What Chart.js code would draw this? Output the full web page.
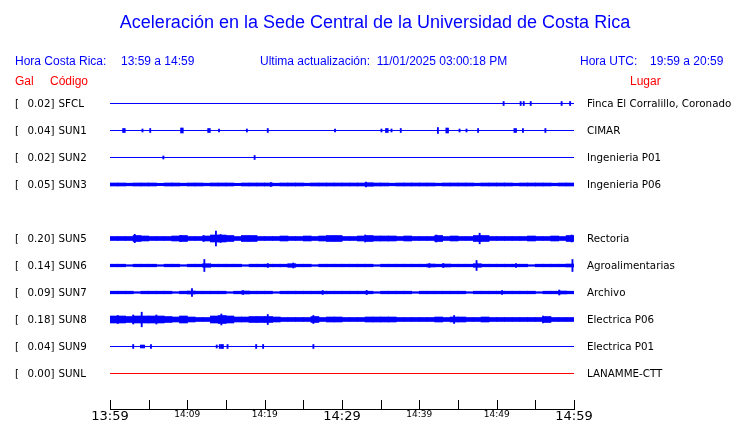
<!DOCTYPE html>
<html lang="es">
<head>
<meta charset="utf-8">
<title>Aceleración en la Sede Central de la Universidad de Costa Rica</title>
<script src="https://cdn.jsdelivr.net/npm/chart.js@4.4.1/dist/chart.umd.min.js"></script>
<style>
    html, body { margin: 0; padding: 0; background: #fff; }
    #wrap { position: relative; width: 740px; height: 423px; overflow: hidden; }
    #chart { position: absolute; left: 0; top: 0; }
    .txt { position: absolute; white-space: pre; line-height: 1; transform: translateY(-50%); }
    .title { font: 18px "Liberation Sans", Arial, sans-serif; color: #0000ff; left: 375px; top: 22px; transform: translate(-50%, -50%); }
    .hdr { font: 12px "Liberation Sans", Arial, sans-serif; color: #0000ff; top: 61px; }
    .red { font: 12px "Liberation Sans", Arial, sans-serif; color: #ff0000; top: 80.5px; }
    .row { font: 10.3px "DejaVu Sans", sans-serif; color: #000; }
</style>
</head>
<body>
<div id="wrap">
    <canvas id="chart" width="740" height="423"></canvas>
    <div class="txt title">Aceleración en la Sede Central de la Universidad de Costa Rica</div>
    <div class="txt hdr" style="left:15px">Hora Costa Rica:</div>
    <div class="txt hdr" style="left:121px">13:59 a 14:59</div>
    <div class="txt hdr" style="left:260px">Ultima actualización:  11/01/2025 03:00:18 PM</div>
    <div class="txt hdr" style="left:580px">Hora UTC:</div>
    <div class="txt hdr" style="left:650px">19:59 a 20:59</div>
    <div class="txt red" style="left:15px">Gal</div>
    <div class="txt red" style="left:50px">Código</div>
    <div class="txt red" style="left:630px">Lugar</div>
</div>
<script>
// Stations, top to bottom (row 4 is empty in the original: SUN4 has no trace)
const STATIONS = ['SFCL', 'SUN1', 'SUN2', 'SUN3', 'SUN5', 'SUN6', 'SUN7', 'SUN8', 'SUN9', 'SUNL'];
const ROWS = [0, 1, 2, 3, 5, 6, 7, 8, 9, 10];
const PEAK_GAL = ['0.02', '0.04', '0.02', '0.05', '0.20', '0.14', '0.09', '0.18', '0.04', '0.00'];
const PLACES = ['Finca El Corralillo, Coronado', 'CIMAR', 'Ingenieria P01', 'Ingenieria P06',
    'Rectoria', 'Agroalimentarias', 'Archivo', 'Electrica P06', 'Electrica P01', 'LANAMME-CTT'];
const OFFLINE = ['SUNL'];

// Time axis: minutes after 13:59
const TICK_LABELS = ['13:59', '14:09', '14:19', '14:29', '14:39', '14:49', '14:59'];

// Background noise envelope, half height per minute (trace units)
const NOISE_SUN3 = [1.5, 1.5, 1.3, 1.5, 1.5, 1.5, 1.2, 1.5, 1.5, 1.3, 1.5, 1.5, 1.3, 1.5, 1.5, 1.5, 1.2, 1.5, 1.5, 1.5,
    1.5, 1.3, 1.5, 1.5, 1.5, 1.3, 1.5, 1.5, 1.5, 1.5, 1.5, 1.5, 1.5, 1.8, 1.5, 1.5, 1.3, 1.5, 1.5, 1.5,
    1.5, 1.5, 1.3, 1.5, 1.5, 1.5, 1.5, 1.3, 1.5, 1.5, 1.5, 1.5, 1.3, 1.5, 1.5, 1.5, 1.5, 1.3, 1.5, 1.5];
const NOISE_SUN5 = [2, 2, 2, 3, 2.5, 2, 2, 2, 2.5, 3, 2, 2, 2.5, 3.5, 3.5, 3, 2, 3, 3, 2,
    2, 2, 2.5, 2, 2, 2.5, 2, 2.5, 3, 3, 2, 2, 2.5, 3, 2.5, 2.5, 2.5, 2, 2.5, 2,
    2, 2, 3, 2, 2.5, 2, 2, 3, 3, 2, 2, 2, 2, 2, 2.5, 2, 2, 2.5, 2, 3];
const NOISE_SUN6 = [1.3, 1.3, 0.8, 1.3, 1.3, 1.3, 0.8, 1.3, 1.3, 0.8, 1.3, 1.3, 1.8, 1.3, 1.3, 1.3, 1.3, 0.8, 1.3, 1.3,
    1.3, 1.3, 1.3, 1.8, 1.3, 1.3, 0.8, 1.3, 1.3, 1.3, 1.3, 1.3, 1.3, 1.3, 0.8, 1.3, 1.3, 1.3, 1.3, 1.3,
    1.3, 1.5, 1.3, 1.5, 1.3, 1.3, 1.3, 1.8, 1.3, 1.3, 1.3, 1.3, 1.3, 1.3, 0.8, 1.3, 1.3, 1.3, 1.3, 1.5];
const NOISE_SUN7 = [1.3, 1.3, 1.3, 0.8, 1.3, 1.3, 1.3, 1.3, 0.8, 1.3, 1.5, 1.3, 1.3, 1.3, 1.3, 0.8, 1.3, 1.5, 1.3, 1.3,
    1.3, 0.8, 1.3, 1.3, 1.3, 1.3, 1.3, 1.3, 1.3, 1.3, 1.3, 1.3, 1.3, 1.3, 0.8, 1.3, 1.3, 1.3, 1.3, 0.8,
    1.3, 1.3, 1.3, 1.3, 1.3, 1.3, 0.8, 1.3, 1.3, 1.3, 1.3, 1.3, 1.3, 1.3, 1.3, 0.8, 1.3, 1.3, 1.5, 1.3];
const NOISE_SUN8 = [3.5, 3.5, 3, 3.5, 3.5, 3.5, 3.5, 3, 2.5, 3.5, 2.5, 2, 2, 3.5, 4, 3.5, 2.5, 2.5, 3, 3,
    3, 2.5, 2, 2, 2, 2, 3, 2, 2.5, 2.5, 2, 2, 2, 2.5, 2.5, 2.5, 2.5, 2, 2, 2,
    2, 2, 2.5, 2, 2.5, 2.5, 2, 2, 2.5, 2, 2, 2, 2, 2, 2, 2, 3, 2, 2, 2];

// Isolated spikes: [minute, half height]
const SPIKES_SFCL = [[50.9, 2], [53.1, 2], [53.5, 2], [54.4, 2], [58.4, 2], [59.5, 2]];
const SPIKES_SUN1 = [[1.7, 2], [1.9, 2], [4.2, 1.5], [5.2, 2], [9.2, 2.5], [9.4, 2.5], [12.7, 2], [12.9, 2],
    [14.1, 1.5], [17.7, 1.5], [20.4, 2], [29.1, 1.5], [35.1, 1.5], [35.7, 2], [35.9, 2], [36.4, 1.5],
    [37.6, 2], [42.4, 3], [43.5, 2.5], [43.7, 2.5], [45.2, 1.5], [46.1, 1.5], [47.6, 2], [52.3, 2],
    [52.5, 2], [53.4, 2], [56.3, 2]];
const SPIKES_SUN2 = [[6.9, 1.5], [18.7, 2]];
const SPIKES_SUN3 = [[33.1, 2.5], [20.8, 2]];
const SPIKES_SUN5 = [[3.2, 4.2], [9.2, 3], [12.1, 3], [13.7, 7.5], [14.3, 4], [33.0, 3.5], [42.2, 3.5],
    [47.8, 5.3], [59.7, 3.5]];
const SPIKES_SUN6 = [[12.2, 6], [20.4, 2], [23.7, 2.5], [41.3, 2], [43.1, 2], [47.4, 5], [52.5, 2], [59.8, 6]];
const SPIKES_SUN7 = [[10.6, 4], [17.2, 2], [27.5, 2], [33.2, 2], [50.7, 2], [58.1, 2.5]];
const SPIKES_SUN8 = [[1.0, 4], [3.0, 4.5], [4.1, 7.3], [6.0, 4.5], [14.4, 5.5], [20.4, 5], [26.3, 4],
    [44.5, 4], [56.0, 3.5]];
const SPIKES_SUN9 = [[3.0, 2], [4.0, 1.5], [4.2, 1.5], [4.4, 1.5], [5.3, 2], [13.8, 1.5], [14.2, 2],
    [14.4, 2], [14.6, 2], [15.2, 2], [18.9, 2], [19.8, 2], [26.3, 2]];
const SPIKES_SUNL = [];

const NOISE = [null, null, null, NOISE_SUN3, NOISE_SUN5, NOISE_SUN6, NOISE_SUN7, NOISE_SUN8, null, null];
const SPIKES = [SPIKES_SFCL, SPIKES_SUN1, SPIKES_SUN2, SPIKES_SUN3, SPIKES_SUN5, SPIKES_SUN6,
    SPIKES_SUN7, SPIKES_SUN8, SPIKES_SUN9, SPIKES_SUNL];

const BLUE = '#0000ff';
const RED = '#ff0000';
const AMP = 1 / 27; // trace units -> row units

function band(row, x, a) {
    return { x: x, y: [row - a * AMP, row + a * AMP] };
}

const datasets = [];
STATIONS.forEach((code, i) => {
    const row = ROWS[i];
    const color = OFFLINE.includes(code) ? RED : BLUE;

    // baseline
    datasets.push({
        type: 'line',
        data: [{ x: 0, y: row }, { x: 60, y: row }],
        borderColor: color,
        borderWidth: 1,
        pointRadius: 0
    });

    if (NOISE[i]) {
        datasets.push({
            type: 'bar',
            data: NOISE[i].map((a, m) => band(row, m + 0.5, a)),
            backgroundColor: color,
            borderWidth: 0,
            barThickness: 8,
            grouped: false
        });
    }

    if (SPIKES[i].length) {
        datasets.push({
            type: 'bar',
            data: SPIKES[i].map(([m, a]) => band(row, m, a)),
            backgroundColor: color,
            borderWidth: 0,
            barThickness: 1.2,
            grouped: false
        });
    }
});

// Small tick marks pointing up from the time axis
const upTicks = {
    id: 'upTicks',
    afterDraw(chart) {
        const xs = chart.scales.x;
        const c = chart.ctx;
        c.save();
        c.strokeStyle = '#000';
        c.lineWidth = 1;
        c.beginPath();
        xs.ticks.forEach(t => {
            const px = Math.round(xs.getPixelForValue(t.value)) + 0.5;
            c.moveTo(px, xs.top - 9);
            c.lineTo(px, xs.top);
        });
        c.stroke();
        c.restore();
    }
};

const chart = new Chart(document.getElementById('chart').getContext('2d'), {
    type: 'bar',
    data: { datasets: datasets },
    options: {
        responsive: false,
        animation: false,
        events: [],
        layout: { padding: { left: 110, right: 166, top: 90, bottom: 0 } },
        plugins: {
            legend: { display: false },
            tooltip: { enabled: false }
        },
        scales: {
            x: {
                type: 'linear',
                min: 0,
                max: 60,
                offset: false,
                grid: { display: false, drawTicks: false },
                border: { display: true, color: '#000', width: 1 },
                afterFit: (scale) => { scale.height = 14; },
                ticks: {
                    stepSize: 5,
                    autoSkip: false,
                    maxRotation: 0,
                    padding: 0,
                    color: '#000',
                    callback: (v) => (v % 10 === 0 ? TICK_LABELS[v / 10] : ''),
                    font: (ctx) => (ctx.tick && ctx.tick.value % 30 === 0)
                        ? { family: 'DejaVu Sans', size: 13 }
                        : { family: 'DejaVu Sans', size: 9 }
                }
            },
            y: {
                display: false,
                reverse: true,
                min: -0.5,
                max: 11.315
            }
        }
    },
    plugins: [upTicks]
});

// Station labels on both sides, placed from the y scale
const wrap = document.getElementById('wrap');
function addLabel(text, css) {
    const d = document.createElement('div');
    d.className = 'txt row';
    d.textContent = text;
    Object.assign(d.style, css);
    wrap.appendChild(d);
}
STATIONS.forEach((code, i) => {
    const y = chart.scales.y.getPixelForValue(ROWS[i]) + 'px';
    addLabel('[', { left: '15px', top: y });
    addLabel(PEAK_GAL[i] + ']', { left: '10px', width: '44.5px', textAlign: 'right', top: y });
    addLabel(code, { left: '58.5px', top: y });
    addLabel(PLACES[i], { left: '587px', top: y });
});
</script>
</body>
</html>
